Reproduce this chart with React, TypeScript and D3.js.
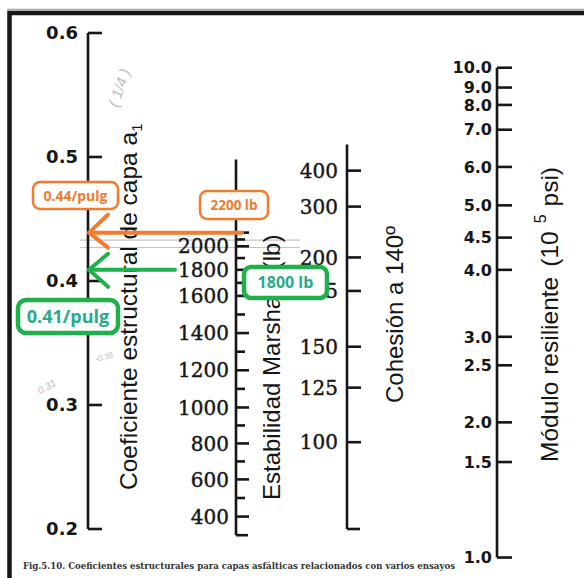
import React from 'react'
import * as d3 from 'd3'

// coeficiente estructural a1 (main scale)
const a1Ticks = [0.2, 0.3, 0.4, 0.5, 0.6]

// Estabilidad Marshall (lb) and the a1 each value lines up with
const marshallValues = [400, 600, 800, 1000, 1200, 1400, 1600, 1800, 2000, 2200]
const marshallA1 = [0.21, 0.24, 0.269, 0.298, 0.328, 0.358, 0.388, 0.409, 0.428, 0.439]
const marshallLabels = [400, 600, 800, 1000, 1200, 1400, 1600, 1800, 2000]
const marshallMinor = [500, 700, 900, 1100, 1300, 1500, 1700, 1900, 2100]

// Cohesión a 140°
const cohesionValues = [100, 125, 150, 175, 200, 300, 400]
const cohesionA1 = [0.27, 0.314, 0.347, 0.392, 0.419, 0.46, 0.489]

// Módulo resiliente (10^5 psi)
const modulusValues = [1.0, 1.5, 2.0, 2.5, 3.0, 4.0, 4.5, 5.0, 6.0, 7.0, 8.0, 9.0, 10.0]
const modulusA1 = [0.177, 0.254, 0.286, 0.332, 0.355, 0.409, 0.435, 0.461, 0.492, 0.522, 0.542, 0.556, 0.572]

// worked readings
const readings = [
  { lb: 2200, label: '2200 lb', result: '0.44/pulg' },
  { lb: 1800, label: '1800 lb', result: '0.41/pulg' },
]

const W = 584
const H = 578
const ORANGE = '#f47b2c'
const GREEN = '#1fb04c'
const GREEN_TXT = '#2aa98c'
const INK = '#161616'

const App = () => {
  const a1Scale = d3.scaleLinear().domain([0.2, 0.6]).range([529, 33])
  const marshallToA1 = d3.scaleLinear().domain(marshallValues).range(marshallA1)
  const cohesionToA1 = d3.scaleLinear().domain(cohesionValues).range(cohesionA1)
  const modulusToA1 = d3.scaleLinear().domain(modulusValues).range(modulusA1)
  const yM = (v: number) => a1Scale(marshallToA1(v))
  const yC = (v: number) => a1Scale(cohesionToA1(v))
  const yR = (v: number) => a1Scale(modulusToA1(v))

  const xA1 = 88
  const xM = 236
  const xC = 347
  const xR = 497

  const serif = 'DejaVu Serif'
  const bold = 'DejaVu Sans'
  const sans = 'Liberation Sans'

  const yO = yM(readings[0].lb)
  const yG = yM(readings[1].lb)

  return (
    <svg width={W} height={H} style={{ position: 'absolute', left: 0, top: 0, background: '#fff' }}>
      {/* frame */}
      <line x1={7} x2={W} y1={9.5} y2={9.5} stroke="#aaa" strokeWidth={1.5} />
      <path d={`M9.5,${H} V13 H${W}`} fill="none" stroke={INK} strokeWidth={4.5} />

      {/* pencil marks */}
      <g stroke="#c4c4c4" strokeWidth={1.2} fill="none">
        <line x1={80} x2={300} y1={a1Scale(0.433)} y2={a1Scale(0.433)} />
        <line x1={80} x2={300} y1={a1Scale(0.427)} y2={a1Scale(0.427)} />
      </g>
      <g fill="#bcbcbc" fontFamily={sans} fontStyle="italic">
        <text transform="translate(118,108) rotate(-72)" fontSize={15}>( 1/4 )</text>
        <text transform={`translate(96,${a1Scale(0.337) + 3}) rotate(-15)`} fontSize={8}>-0.35</text>
        <text transform={`translate(40,${a1Scale(0.31) + 2}) rotate(-30)`} fontSize={10}>0.31</text>
      </g>

      {/* a1 scale */}
      <g stroke={INK} strokeWidth={2.6} fill="none">
        <line x1={xA1} x2={xA1} y1={a1Scale(0.6)} y2={a1Scale(0.2)} />
        {a1Ticks.map(t => (
          <line key={t} x1={xA1} x2={xA1 + 14} y1={a1Scale(t)} y2={a1Scale(t)} />
        ))}
      </g>
      <g fontFamily={bold} fontWeight="bold" fontSize={18} fill={INK} textAnchor="end">
        {a1Ticks.map(t => (
          <text key={t} x={xA1 - 10} y={a1Scale(t)} dy="0.36em">{d3.format('.1f')(t)}</text>
        ))}
      </g>
      <text transform="translate(137,490) rotate(-90)" fontFamily={sans} fontSize={24.5} fill={INK}>
        Coeficiente estructural de capa a<tspan fontSize={15} dy={5}>1</tspan>
      </text>

      {/* Marshall scale */}
      <g stroke={INK} strokeWidth={2.6} fill="none">
        <line x1={xM} x2={xM} y1={a1Scale(0.498)} y2={a1Scale(0.195)} />
        <line x1={xM} x2={xM + 12} y1={a1Scale(0.195)} y2={a1Scale(0.195)} />
        {marshallValues.map(v => (
          <line key={v} x1={xM} x2={xM + 13} y1={yM(v)} y2={yM(v)} />
        ))}
        {marshallMinor.map(v => (
          <line key={v} x1={xM} x2={xM + 9} y1={yM(v)} y2={yM(v)} />
        ))}
      </g>
      <g fontFamily={serif} fontSize={20} fill={INK} stroke={INK} strokeWidth={0.4} textAnchor="end">
        {marshallLabels.map(v => (
          <text key={v} x={xM - 7} y={yM(v)} dy="0.36em">{v}</text>
        ))}
      </g>
      <text transform="translate(280,500) rotate(-90)" fontFamily={sans} fontSize={24} fill={INK}>
        Estabilidad Marshall<tspan dx={16}>(lb)</tspan>
      </text>

      {/* Cohesion scale */}
      <g stroke={INK} strokeWidth={2.6} fill="none">
        <line x1={xC} x2={xC} y1={a1Scale(0.51)} y2={a1Scale(0.2)} />
        <line x1={xC} x2={xC + 13} y1={a1Scale(0.2)} y2={a1Scale(0.2)} />
        {cohesionValues.map(v => (
          <line key={v} x1={xC} x2={xC + 14} y1={yC(v)} y2={yC(v)} />
        ))}
      </g>
      <g fontFamily={serif} fontSize={20} fill={INK} stroke={INK} strokeWidth={0.4} textAnchor="end">
        {cohesionValues.map(v => (
          <text key={v} x={xC - 9} y={yC(v)} dy="0.36em">{v}</text>
        ))}
      </g>
      <text transform="translate(403,403) rotate(-90)" fontFamily={sans} fontSize={24} fill={INK}>
        Cohesión a 140º
      </text>

      {/* Modulus scale */}
      <g stroke={INK} strokeWidth={2.6} fill="none">
        <line x1={xR} x2={xR} y1={yR(10)} y2={yR(1)} />
        {modulusValues.map(v => (
          <line key={v} x1={xR} x2={xR + 15} y1={yR(v)} y2={yR(v)} />
        ))}
      </g>
      <g fontFamily={bold} fontWeight="bold" fontSize={16} fill={INK} textAnchor="end">
        {modulusValues.map(v => (
          <text key={v} x={xR - 5} y={yR(v)} dy="0.36em">{d3.format('.1f')(v)}</text>
        ))}
      </g>
      <text transform="translate(558,462) rotate(-90)" fontFamily={sans} fontSize={24.5} fill={INK}>
        Módulo resiliente<tspan dx={10}>(10</tspan><tspan fontSize={16} dx={8} dy={-12}>5</tspan><tspan dx={8} dy={12}>psi)</tspan>
      </text>

      {/* worked example: 2200 lb -> 0.44 */}
      <g stroke={ORANGE} strokeWidth={4} strokeLinecap="round" strokeLinejoin="round" fill="none">
        <line x1={xM + 6} x2={xA1 + 1} y1={yO} y2={yO} />
        <polyline points={`${xA1 + 20},${yO - 18} ${xA1 + 1},${yO} ${xA1 + 20},${yO + 15}`} />
      </g>
      <rect x={200} y={191} width={68} height={28} rx={7} fill="#fff" stroke={ORANGE} strokeWidth={2.5} />
      <text x={234} y={205} dy="0.36em" textAnchor="middle" fontFamily="Open Sans" fontWeight="bold" fontSize={13.5} fill={ORANGE}>
        {readings[0].label}
      </text>
      <rect x={33} y={182} width={85} height={27} rx={7} fill="#fff" stroke={ORANGE} strokeWidth={2.5} />
      <text x={75.5} y={195.5} dy="0.36em" textAnchor="middle" fontFamily="Open Sans" fontWeight="bold" fontSize={14} fill={ORANGE}>
        {readings[0].result}
      </text>

      {/* worked example: 1800 lb -> 0.41 */}
      <g stroke={GREEN} strokeWidth={4} strokeLinecap="round" strokeLinejoin="round" fill="none">
        <line x1={175} x2={xA1 + 1} y1={yG} y2={yG} />
        <polyline points={`${xA1 + 20},${yG - 16} ${xA1 + 1},${yG} ${xA1 + 20},${yG + 17}`} />
      </g>
      <rect x={244} y={267} width={83} height={31} rx={7} fill="#fff" stroke={GREEN} strokeWidth={4.5} />
      <text x={285.5} y={282.5} dy="0.36em" textAnchor="middle" fontFamily="Open Sans" fontWeight="bold" fontSize={16} fill={GREEN_TXT}>
        {readings[1].label}
      </text>
      <rect x={18} y={300} width={100} height={33} rx={8} fill="#fff" stroke={GREEN} strokeWidth={4.5} />
      <text x={68} y={316.5} dy="0.36em" textAnchor="middle" fontFamily="Open Sans" fontWeight="bold" fontSize={18} fill={GREEN_TXT}>
        {readings[1].result}
      </text>

      {/* caption */}
      <text x={23} y={569} fontFamily={serif} fontWeight="bold" fontSize={8.5} fill="#333" textLength={432} lengthAdjust="spacingAndGlyphs">
        Fig.5.10. Coeficientes estructurales para capas asfálticas relacionados con varios ensayos
      </text>
    </svg>
  )
}

export default App
